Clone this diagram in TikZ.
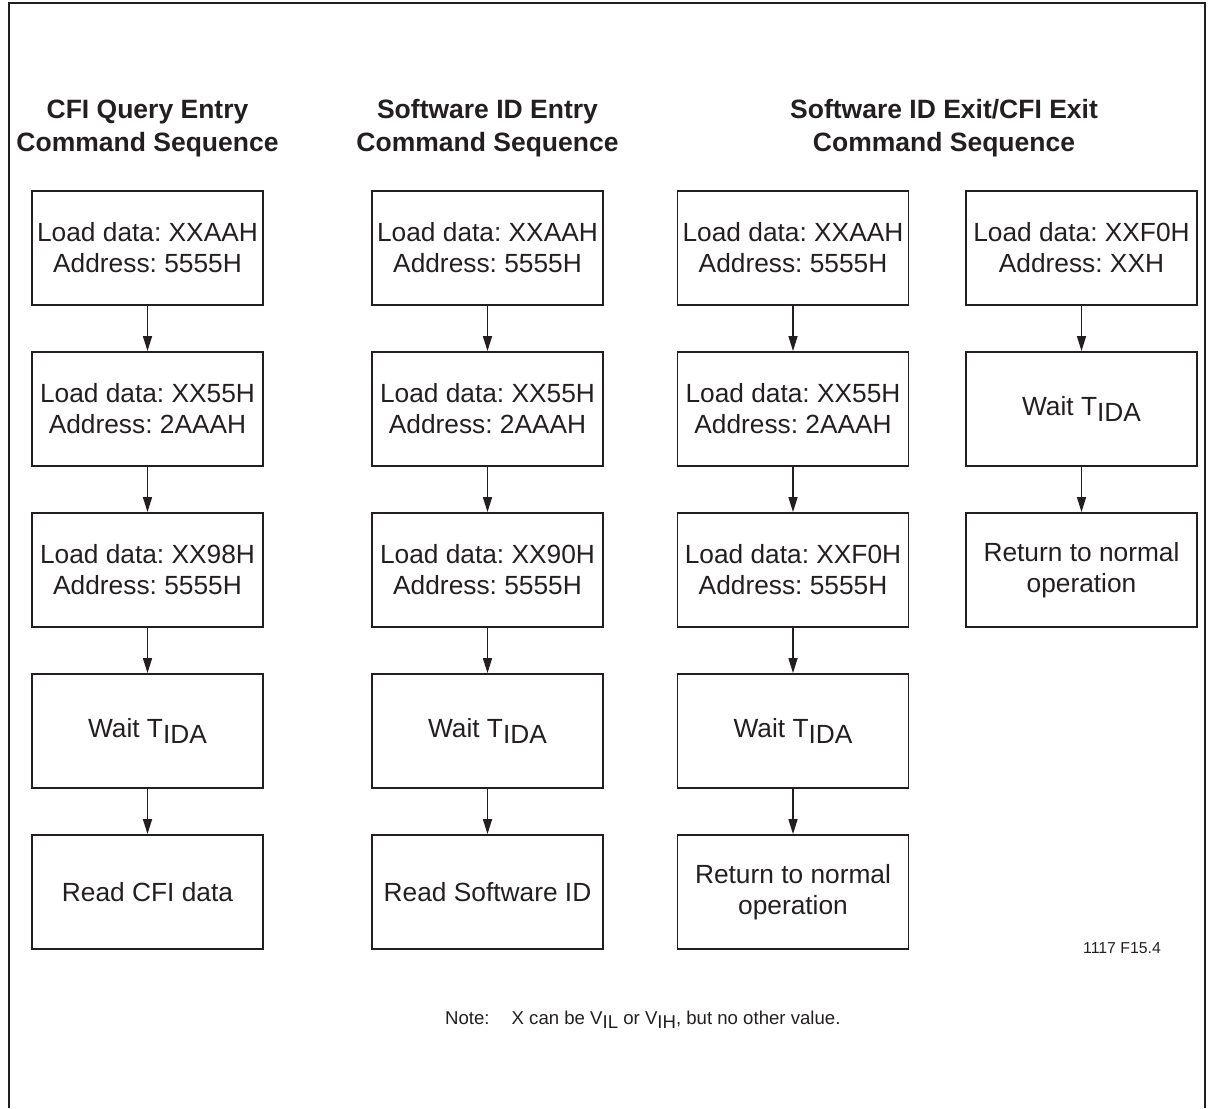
\documentclass[tikz,border=0pt]{standalone}
\usepackage{fontspec}
\setmainfont{Liberation Sans}
\usepackage{xcolor}
\usetikzlibrary{positioning, arrows.meta}
\frenchspacing

\definecolor{ink}{HTML}{231F20}
\newcommand{\lowsub}[1]{\raisebox{-0.22em}{#1}}
\tikzset{
  cmdbox/.style={draw=ink, text=ink, line width=1.8pt, minimum width=231pt, minimum height=114pt, inner sep=0pt, align=center, font=\fontsize{26.3}{31}\selectfont},
  seqtitle/.style={text=ink, align=center, font=\fontsize{26.5}{33}\selectfont\bfseries},
  flow/.style={draw=ink, line width=1.4pt, -{Triangle[length=15pt,width=9pt]}},
  plaintext/.style={text=ink, anchor=base west, inner sep=0pt}
}

\begin{document}
\begin{tikzpicture}[x=1pt, y=1pt, node distance=45.2pt]
\useasboundingbox (0,0) rectangle (1212,-1108);
\draw[ink, line width=1.4pt] (9,-1108) -- (9,-3) -- (1205,-3) -- (1205,-1108);

% CFI query entry
\node[seqtitle] (cfititle) at (147.5,-128) {CFI Query Entry\\Command Sequence};
\node[cmdbox] (cfiA) at (147.5,-248) {Load data: XXAAH\\Address: 5555H};
\node[cmdbox, below=of cfiA] (cfiB) {Load data: XX55H\\Address: 2AAAH};
\node[cmdbox, below=of cfiB] (cfiC) {Load data: XX98H\\Address: 5555H};
\node[cmdbox, below=of cfiC] (cfiD) {Wait T\lowsub{IDA}};
\node[cmdbox, below=of cfiD] (cfiE) {Read CFI data};

\draw[flow] (cfiA) -- (cfiB);
\draw[flow] (cfiB) -- (cfiC);
\draw[flow] (cfiC) -- (cfiD);
\draw[flow] (cfiD) -- (cfiE);

% Software ID entry
\node[seqtitle] (idtitle) at (487.5,-128) {Software ID Entry\\Command Sequence};
\node[cmdbox] (idA) at (487.5,-248) {Load data: XXAAH\\Address: 5555H};
\node[cmdbox, below=of idA] (idB) {Load data: XX55H\\Address: 2AAAH};
\node[cmdbox, below=of idB] (idC) {Load data: XX90H\\Address: 5555H};
\node[cmdbox, below=of idC] (idD) {Wait T\lowsub{IDA}};
\node[cmdbox, below=of idD] (idE) {Read Software ID};

\draw[flow] (idA) -- (idB);
\draw[flow] (idB) -- (idC);
\draw[flow] (idC) -- (idD);
\draw[flow] (idD) -- (idE);

% Software ID exit / CFI exit, long form
\node[seqtitle] (exittitle) at (944,-128) {Software ID Exit/CFI Exit\\Command Sequence};
\node[cmdbox] (exA) at (793,-248) {Load data: XXAAH\\Address: 5555H};
\node[cmdbox, below=of exA] (exB) {Load data: XX55H\\Address: 2AAAH};
\node[cmdbox, below=of exB] (exC) {Load data: XXF0H\\Address: 5555H};
\node[cmdbox, below=of exC] (exD) {Wait T\lowsub{IDA}};
\node[cmdbox, below=of exD] (exE) {Return to normal\\operation};

\draw[flow] (exA) -- (exB);
\draw[flow] (exB) -- (exC);
\draw[flow] (exC) -- (exD);
\draw[flow] (exD) -- (exE);

% Software ID exit / CFI exit, short form
\node[cmdbox] (shA) at (1081.5,-248) {Load data: XXF0H\\Address: XXH};
\node[cmdbox, below=of shA] (shB) {Wait T\lowsub{IDA}};
\node[cmdbox, below=of shB] (shC) {Return to normal\\operation};

\draw[flow] (shA) -- (shB);
\draw[flow] (shB) -- (shC);

% Figure number and note
\node[plaintext, font=\fontsize{15.8}{18}\selectfont] (fignum) at (1083,-953) {1117 F15.4};
\node[plaintext, font=\fontsize{18.6}{21}\selectfont] (note) at (445,-1024)
  {Note:\hspace{22pt}X can be V\lowsub{IL} or V\lowsub{IH}, but no other value.};
\end{tikzpicture}
\end{document}
